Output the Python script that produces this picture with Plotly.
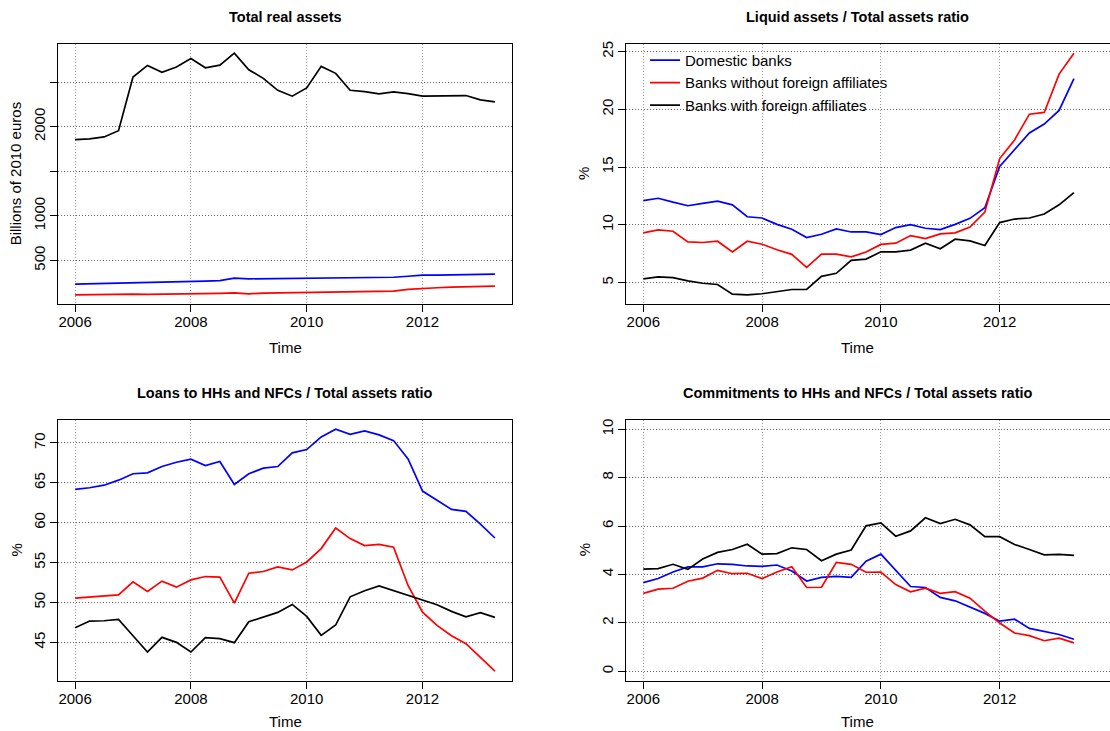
import plotly.graph_objects as go

W, H = 1110, 731

time = [2006.0, 2006.25, 2006.5, 2006.75, 2007.0, 2007.25, 2007.5, 2007.75,
        2008.0, 2008.25, 2008.5, 2008.75, 2009.0, 2009.25, 2009.5, 2009.75,
        2010.0, 2010.25, 2010.5, 2010.75, 2011.0, 2011.25, 2011.5, 2011.75,
        2012.0, 2012.25, 2012.5, 2012.75, 2013.0, 2013.25]

series_names = ["Domestic banks", "Banks without foreign affiliates", "Banks with foreign affiliates"]
series_colors = ["#0000FF", "#FF0000", "#000000"]

# Panel 1: Total real assets (billions of 2010 euros)
real_domestic = [233, 236, 240, 246, 245, 250, 251, 259, 263, 268, 274, 300, 293, 295, 298, 301,
                 303, 303, 303, 310, 311, 312, 311, 322, 334, 335, 337, 339, 340, 345]
real_without = [114, 117, 120, 122, 121, 119, 120, 124, 127, 129, 131, 135, 125, 133, 135, 138,
                138, 144, 141, 145, 150, 154, 155, 175, 186, 193, 199, 203, 204, 212]
real_with = [1855, 1863, 1885, 1955, 2557, 2687, 2609, 2668, 2765, 2661, 2690, 2824, 2638, 2542, 2408, 2342,
             2434, 2676, 2598, 2408, 2393, 2367, 2390, 2371, 2342, 2345, 2353, 2349, 2301, 2278]

# Panel 2: Liquid assets / Total assets ratio (%)
liq_domestic = [12.1, 12.3, 11.96, 11.65, 11.85, 12.05, 11.73, 10.7, 10.59, 10.04, 9.61, 8.9, 9.18, 9.64, 9.38, 9.38,
                9.15, 9.76, 10.01, 9.7, 9.59, 10.04, 10.56, 11.48, 15.06, 16.5, 17.95, 18.72, 19.9, 22.65]
liq_without = [9.3, 9.56, 9.44, 8.52, 8.47, 8.58, 7.66, 8.58, 8.32, 7.84, 7.44, 6.32, 7.46, 7.46, 7.23, 7.64,
               8.3, 8.41, 9.07, 8.81, 9.21, 9.3, 9.81, 11.1, 15.74, 17.35, 19.58, 19.73, 23.05, 24.86]
liq_with = [5.32, 5.49, 5.43, 5.14, 4.94, 4.83, 4.0, 3.94, 4.03, 4.23, 4.4, 4.4, 5.54, 5.8, 6.92, 7.03,
            7.66, 7.66, 7.81, 8.41, 7.92, 8.75, 8.61, 8.21, 10.19, 10.5, 10.59, 10.93, 11.73, 12.79]

# Panel 3: Loans to HHs and NFCs / Total assets ratio (%)
loan_domestic = [64.17, 64.38, 64.7, 65.33, 66.13, 66.25, 67.04, 67.58, 67.96, 67.17, 67.67, 64.79, 66.13, 66.83, 67.04, 68.75,
                 69.17, 70.75, 71.71, 71.08, 71.5, 71.0, 70.29, 68.0, 63.96, 62.79, 61.67, 61.42, 59.83, 58.08]
loan_without = [50.54, 50.67, 50.79, 50.96, 52.58, 51.38, 52.67, 51.92, 52.83, 53.25, 53.17, 49.92, 53.67, 53.88, 54.46, 54.08,
                55.08, 56.75, 59.33, 58.0, 57.13, 57.29, 56.92, 52.13, 48.79, 47.13, 45.83, 44.83, 43.13, 41.38]
loan_with = [46.83, 47.67, 47.71, 47.88, 45.83, 43.79, 45.63, 45.0, 43.79, 45.58, 45.46, 44.96, 47.58, 48.21, 48.75, 49.75,
             48.25, 45.88, 47.17, 50.71, 51.46, 52.08, 51.5, 50.88, 50.33, 49.71, 48.88, 48.21, 48.71, 48.13]

# Panel 4: Commitments to HHs and NFCs / Total assets ratio (%)
com_domestic = [3.66, 3.83, 4.1, 4.31, 4.31, 4.44, 4.42, 4.35, 4.33, 4.39, 4.14, 3.73, 3.88, 3.92, 3.88, 4.55,
                4.84, 4.17, 3.5, 3.46, 3.05, 2.91, 2.66, 2.39, 2.07, 2.15, 1.77, 1.65, 1.52, 1.32]
com_without = [3.22, 3.39, 3.43, 3.72, 3.85, 4.17, 4.03, 4.05, 3.83, 4.1, 4.32, 3.46, 3.47, 4.5, 4.42, 4.09,
               4.1, 3.58, 3.28, 3.43, 3.22, 3.29, 3.02, 2.48, 1.99, 1.58, 1.47, 1.26, 1.37, 1.17]
com_with = [4.22, 4.24, 4.42, 4.21, 4.64, 4.91, 5.03, 5.25, 4.84, 4.86, 5.1, 5.03, 4.57, 4.84, 5.01, 6.01,
            6.13, 5.58, 5.8, 6.34, 6.1, 6.28, 6.05, 5.56, 5.56, 5.24, 5.03, 4.81, 4.83, 4.79]

titles = ["Total real assets", "Liquid assets / Total assets ratio",
          "Loans to HHs and NFCs / Total assets ratio", "Commitments to HHs and NFCs / Total assets ratio"]
ylabels = ["Billions of 2010 euros", "%", "%", "%"]

x_ticks = [2006, 2008, 2010, 2012]
y_ticks1 = [500, 1000, 1500, 2000, 2500]
y_ticktext1 = ["500", "1000", "", "2000", ""]
y_ticks2 = [5, 10, 15, 20, 25]
y_ticks3 = [45, 50, 55, 60, 65, 70]
y_ticks4 = [0, 2, 4, 6, 8, 10]
ylim4 = [0, 10]

panels = [
    [real_domestic, real_without, real_with],
    [liq_domestic, liq_without, liq_with],
    [loan_domestic, loan_without, loan_with],
    [com_domestic, com_without, com_with],
]


def rrange(vals, pad=0.04):
    lo, hi = min(vals), max(vals)
    d = (hi - lo) * pad
    return [lo - d, hi + d]


# pixel layout of plot regions (left, top, right, bottom)
boxes = [(58.3, 40.7, 511.7, 302.7), (626, 40.7, 1110, 302.7),
         (58.3, 418.3, 511.7, 680.7), (626, 418.3, 1110, 680.7)]
xranges = [[2005.71, 2013.54], [2005.709, 2013.857], [2005.71, 2013.54], [2005.709, 2013.857]]

FONT = "Liberation Sans, Arial, Helvetica, sans-serif"
fig = go.Figure()

for p, data in enumerate(panels):
    ax = "" if p == 0 else str(p + 1)
    for s, vals in enumerate(data):
        fig.add_trace(go.Scatter(
            x=time, y=vals, mode="lines",
            line=dict(color=series_colors[s], width=1.7),
            name=series_names[s], showlegend=(p == 1),
            xaxis="x" + ax, yaxis="y" + ax,
        ))

yspecs = [
    (y_ticks1, y_ticktext1, rrange(real_domestic + real_without + real_with)),
    (y_ticks2, [str(v) for v in y_ticks2], rrange(liq_domestic + liq_without + liq_with)),
    (y_ticks3, [str(v) for v in y_ticks3], rrange(loan_domestic + loan_without + loan_with)),
    (y_ticks4, [str(v) for v in y_ticks4], rrange(ylim4)),
]

annotations = []
for p in range(4):
    l, t, r, b = boxes[p]
    right_col = p in (1, 3)
    xdom = [l / W, min(r / W, 1.0)]
    ydom = [1 - b / H, 1 - t / H]
    ax = "" if p == 0 else str(p + 1)
    tv, tt, yr = yspecs[p]
    fig.layout["xaxis" + ax] = dict(
        domain=xdom, range=xranges[p], anchor="y" + ax,
        tickvals=x_ticks, ticktext=[str(v) for v in x_ticks],
        ticks="outside", ticklen=7, tickcolor="#000", tickwidth=1,
        showline=True, linecolor="#000", linewidth=1, mirror=True,
        showgrid=True, gridcolor="#9a9a9a", gridwidth=1, griddash="1px,2px",
        zeroline=False, tickfont=dict(size=15, color="#000", family=FONT),
        ticklabelstandoff=-3,
    )
    fig.layout["yaxis" + ax] = dict(
        domain=ydom, range=yr, anchor="x" + ax,
        tickvals=tv, ticktext=tt, tickangle=-90,
        ticks="outside", ticklen=7, tickcolor="#000", tickwidth=1,
        showline=True, linecolor="#000", linewidth=1, mirror=not right_col,
        showgrid=True, gridcolor="#666666", gridwidth=1, griddash="1px,2px",
        zeroline=False, tickfont=dict(size=15, color="#000", family=FONT),
        ticklabelstandoff=-1,
    )
    cx = (l + (r if not right_col else 1089)) / 2
    annotations.append(dict(text="<b>" + titles[p] + "</b>", x=cx / W, y=1 - (t - 27) / H,
                            xref="paper", yref="paper", showarrow=False,
                            font=dict(size=14.5, color="#000", family=FONT),
                            xanchor="center", yanchor="middle"))
    annotations.append(dict(text="Time", x=cx / W, y=1 - min(b + 43.5, 721.5) / H,
                            xref="paper", yref="paper", showarrow=False,
                            font=dict(size=15, color="#000", family=FONT),
                            xanchor="center", yanchor="middle"))
    annotations.append(dict(text=ylabels[p], x=(l - 42) / W, y=1 - ((t + b) / 2) / H,
                            xref="paper", yref="paper", showarrow=False, textangle=-90,
                            font=dict(size=15, color="#000", family=FONT),
                            xanchor="center", yanchor="middle"))

fig.update_layout(
    width=W, height=H, margin=dict(l=0, r=0, t=0, b=0),
    paper_bgcolor="white", plot_bgcolor="white",
    font=dict(family=FONT, size=15, color="#000"),
    annotations=annotations,
    showlegend=True,
    legend=dict(x=645 / W, y=1 - 41 / H, xanchor="left", yanchor="top",
                bgcolor="rgba(0,0,0,0)", borderwidth=0, itemwidth=30,
                font=dict(size=15, color="#000", family=FONT), tracegroupgap=0),
)

fig.write_html("out.html", config={"displayModeBar": False},
               post_script="document.body.style.margin='0';document.body.style.overflow='hidden';")
